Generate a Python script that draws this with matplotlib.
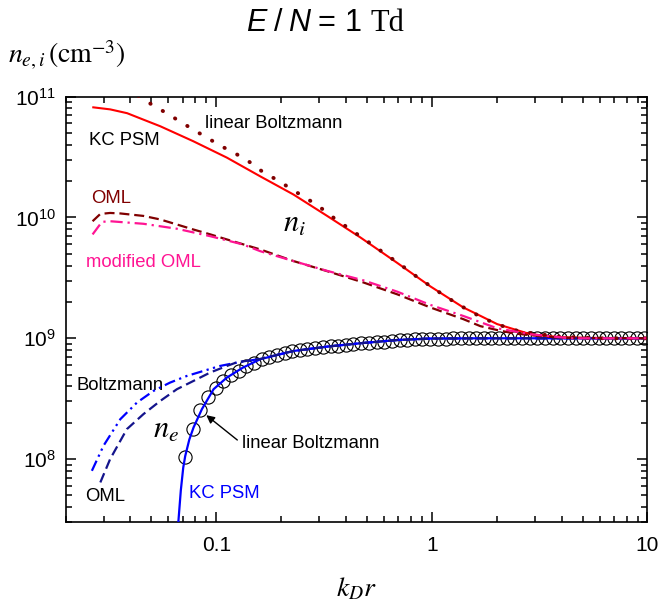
import numpy as np
import matplotlib.pyplot as plt
from matplotlib import ticker

plt.rcParams['font.family'] = 'Liberation Sans'
plt.rcParams['mathtext.fontset'] = 'stix'

# ion density n_i (cm^-3) vs k_D r
kd_ni_kc = [0.0269, 0.0322, 0.0386, 0.0460, 0.0550, 0.0782, 0.112, 0.160, 0.228,
            0.327, 0.466, 0.692, 0.984, 1.40, 2.01, 2.87, 3.95, 6.0, 10.0]
ni_kc = [8.16e10, 7.85e10, 7.3e10, 6.45e10, 5.69e10, 4.28e10, 3.13e10, 2.19e10,
         1.55e10, 1.03e10, 6.84e9, 4.2e9, 2.69e9, 1.80e9, 1.31e9, 1.08e9, 1.02e9,
         1.0e9, 1.0e9]

kd_ni_lin = [0.0435, 0.0503, 0.0580, 0.0666, 0.0782, 0.0905, 0.106, 0.125, 0.144,
             0.165, 0.194, 0.225, 0.264, 0.304, 0.349, 0.404, 0.469, 0.541, 0.622,
             0.720, 0.830, 0.960, 1.12, 1.30, 1.51, 1.77, 2.08, 2.47, 2.92, 3.95,
             6.0, 10.0]
ni_lin = [1.02e11, 8.59e10, 7.41e10, 6.37e10, 5.34e10, 4.58e10, 3.88e10, 3.32e10,
          2.85e10, 2.37e10, 2.02e10, 1.70e10, 1.43e10, 1.21e10, 1.0e10, 8.32e9,
          6.92e9, 5.79e9, 4.85e9, 4.04e9, 3.34e9, 2.79e9, 2.31e9, 1.95e9, 1.67e9,
          1.44e9, 1.28e9, 1.16e9, 1.10e9, 1.03e9, 1.0e9, 1.0e9]

kd_ni_oml = [0.0267, 0.0290, 0.0322, 0.0359, 0.0460, 0.0550, 0.0657, 0.0782, 0.0938,
             0.112, 0.134, 0.160, 0.228, 0.326, 0.481, 0.692, 0.984, 1.40, 1.68,
             2.01, 2.39, 2.87, 3.95, 10.0]
ni_oml = [9.31e9, 1.07e10, 1.09e10, 1.08e10, 1.03e10, 9.63e9, 8.75e9, 7.96e9, 7.25e9,
          6.58e9, 5.98e9, 5.44e9, 4.36e9, 3.60e9, 2.90e9, 2.31e9, 1.80e9, 1.44e9,
          1.26e9, 1.17e9, 1.10e9, 1.06e9, 1.01e9, 1.0e9]

kd_ni_moml = [0.0267, 0.0295, 0.0322, 0.0459, 0.0657, 0.0938, 0.133, 0.160, 0.228,
              0.326, 0.481, 0.692, 0.984, 1.40, 1.68, 2.01, 2.87, 4.39, 10.0]
ni_moml = [7.24e9, 9.20e9, 9.31e9, 8.87e9, 8.07e9, 7.00e9, 5.98e9, 5.26e9, 4.36e9,
           3.62e9, 3.02e9, 2.43e9, 1.89e9, 1.53e9, 1.36e9, 1.21e9, 1.08e9, 1.0e9, 1.0e9]

# electron density n_e (cm^-3) vs k_D r
kd_ne_kc = [0.0655, 0.0668, 0.0685, 0.0703, 0.0718, 0.0750, 0.0785, 0.0858, 0.0972,
            0.112, 0.133, 0.160, 0.228, 0.326, 0.466, 0.692, 0.984, 1.68, 10.0]
ne_kc = [2.0e7, 3.1e7, 5.5e7, 8.5e7, 1.06e8, 1.45e8, 1.83e8, 2.59e8, 3.79e8, 4.73e8,
         5.72e8, 6.71e8, 7.85e8, 8.53e8, 9.10e8, 9.68e8, 9.95e8, 1.0e9, 1.0e9]

kd_ne_lin = [0.0718, 0.0779, 0.0845, 0.0918, 0.0996, 0.108, 0.117, 0.127, 0.138,
             0.150, 0.163, 0.176, 0.191, 0.208, 0.225, 0.245, 0.265, 0.288, 0.313,
             0.339, 0.368, 0.399, 0.433, 0.470, 0.510, 0.554, 0.601, 0.652, 0.708,
             0.768, 0.834, 0.905, 0.982, 1.07, 1.16, 1.26, 1.36, 1.48, 1.60, 1.74,
             1.89, 2.05, 2.22, 2.41, 2.62, 2.84, 3.09, 3.35, 3.63, 3.94, 4.28, 4.64,
             5.04, 5.47, 5.93, 6.44, 6.99, 7.58, 8.23, 8.93, 9.69]
ne_lin = [1.05e8, 1.78e8, 2.55e8, 3.25e8, 3.90e8, 4.45e8, 4.95e8, 5.40e8, 5.85e8,
          6.25e8, 6.75e8, 7.0e8, 7.25e8, 7.5e8, 7.8e8, 7.95e8, 8.1e8, 8.25e8, 8.45e8,
          8.6e8, 8.7e8, 8.8e8, 8.95e8, 9.1e8, 9.2e8, 9.3e8, 9.4e8, 9.55e8, 9.7e8,
          9.75e8, 9.8e8, 9.85e8, 9.9e8, 9.93e8, 9.95e8, 9.97e8, 9.98e8, 1e9, 1e9, 1e9,
          1e9, 1e9, 1e9, 1e9, 1e9, 1e9, 1e9, 1e9, 1e9, 1e9, 1e9, 1e9,
          1e9, 1e9, 1e9, 1e9, 1e9, 1e9, 1e9, 1e9, 1e9]

kd_ne_boltz = [0.0265, 0.0300, 0.0359, 0.0429, 0.0512, 0.0611, 0.0731, 0.0873, 0.104,
               0.125, 0.160, 0.228, 0.326, 0.466, 0.692, 0.984, 1.68, 10.0]
ne_boltz = [8.0e7, 1.29e8, 2.14e8, 2.94e8, 3.67e8, 4.30e8, 4.88e8, 5.37e8, 5.90e8,
            6.30e8, 6.75e8, 7.85e8, 8.53e8, 9.10e8, 9.68e8, 9.95e8, 1.0e9, 1.0e9]

kd_ne_oml = [0.0290, 0.0322, 0.0385, 0.0460, 0.0550, 0.0657, 0.0785, 0.0938, 0.112,
             0.125, 0.160, 0.228, 0.326, 0.466, 0.692, 0.984, 1.68, 10.0]
ne_oml = [6.41e7, 1.0e8, 1.77e8, 2.36e8, 3.03e8, 3.79e8, 4.44e8, 5.21e8, 5.90e8,
          6.34e8, 6.75e8, 7.85e8, 8.53e8, 9.10e8, 9.68e8, 9.95e8, 1.0e9, 1.0e9]

fig = plt.figure(figsize=(6.62, 6.08), dpi=100)
ax = fig.add_axes([0.099, 0.141, 0.879, 0.700])
ax.set_xscale('log')
ax.set_yscale('log')

ax.plot(kd_ne_lin, ne_lin, 'o', mfc='none', mec='k', ms=9.5, mew=0.8, zorder=2)
ax.plot(kd_ni_kc, ni_kc, '-', color='#ff0000', lw=1.5, zorder=3)
ax.plot(kd_ne_kc, ne_kc, '-', color='#0000ff', lw=1.6, zorder=4)
ax.plot(kd_ne_boltz, ne_boltz, color='#0000ff', lw=1.6,
        linestyle=(0, (5, 2, 1, 2, 1, 2)), zorder=4)
ax.plot(kd_ne_oml, ne_oml, color='#14148c', lw=1.6,
        linestyle=(0, (4.5, 2.2)), zorder=4)
ax.plot(kd_ni_lin, ni_lin, color='#800000', lw=2.8,
        linestyle=(0, (0.1, 3.6)), dash_capstyle='round', zorder=5)
ax.plot(kd_ni_oml, ni_oml, color='#800000', lw=1.6,
        linestyle=(0, (4.5, 2.2)), zorder=5)
ax.plot(kd_ni_moml, ni_moml, color='#ff1493', lw=1.6,
        linestyle=(0, (5.5, 2.2, 1, 2.2)), zorder=5)

ax.set_xlim(0.02, 10)
ax.set_ylim(3e7, 1e11)

minor_subs = np.arange(2, 10)
ax.xaxis.set_minor_locator(ticker.LogLocator(base=10, subs=minor_subs, numticks=50))
ax.yaxis.set_minor_locator(ticker.LogLocator(base=10, subs=minor_subs, numticks=50))
ax.xaxis.set_major_formatter(ticker.FuncFormatter(lambda v, pos: f'{v:g}'))
ax.xaxis.set_minor_formatter(ticker.NullFormatter())
ax.yaxis.set_minor_formatter(ticker.NullFormatter())
ax.tick_params(which='both', direction='in', top=True, right=True,
               width=1.1, labelsize=15, pad=7)
ax.tick_params(axis='x', which='major', pad=10)
ax.tick_params(which='major', length=7)
ax.tick_params(which='minor', length=4)
for sp in ax.spines.values():
    sp.set_linewidth(1.2)

ax.set_xlabel(r'$k_D r$', fontsize=20)
ax.xaxis.set_label_coords(0.5, -0.125)
fig.text(0.012, 0.895, r'$n_{e,i}\,(\mathrm{cm}^{-3})$', fontsize=20,
         ha='left', va='baseline')

# title: E / N = 1 Td
pieces = [('E', dict(style='italic'), 0), ('/', {}, 5), ('N', dict(style='italic'), 4),
          ('=', {}, 6), ('1', {}, 6), ('Td', dict(family='Liberation Serif'), 7)]
prev = fig.text(0.372, 0.9375, pieces[0][0], fontsize=22, va='bottom', ha='left',
                **pieces[0][1])
for s, kw, gap in pieces[1:]:
    prev = ax.annotate(s, xy=(1, 0), xycoords=prev, xytext=(gap, 0),
                       textcoords='offset points', fontsize=22, va='bottom',
                       ha='left', annotation_clip=False, **kw)

# curve labels
lab = dict(transform=ax.transAxes, fontsize=13.3, ha='left', va='center')
ax.text(0.041, 0.898, 'KC PSM', color='k', **lab)
ax.text(0.240, 0.937, 'linear Boltzmann', color='k', **lab)
ax.text(0.044, 0.761, 'OML', color='#800000', **lab)
ax.text(0.036, 0.610, 'modified OML', color='#ff1493', **lab)
ax.text(0.019, 0.321, 'Boltzmann', color='k', **lab)
ax.text(0.303, 0.186, 'linear Boltzmann', color='k', **lab)
ax.text(0.034, 0.060, 'OML', color='k', **lab)
ax.text(0.213, 0.068, 'KC PSM', color='#0000ff', **lab)

ax.text(0.373, 0.6825, r'$n_i$', transform=ax.transAxes, fontsize=22,
        ha='left', va='baseline')
ax.text(0.150, 0.198, r'$n_e$', transform=ax.transAxes, fontsize=22,
        ha='left', va='baseline')

ax.annotate('', xy=(0.0899, 2.31e8), xycoords='data',
            xytext=(0.2952, 0.1933), textcoords='axes fraction',
            arrowprops=dict(arrowstyle='-|>', color='k', lw=1.0,
                            mutation_scale=12, shrinkA=0, shrinkB=0))

fig.savefig('out.png', dpi=100)
